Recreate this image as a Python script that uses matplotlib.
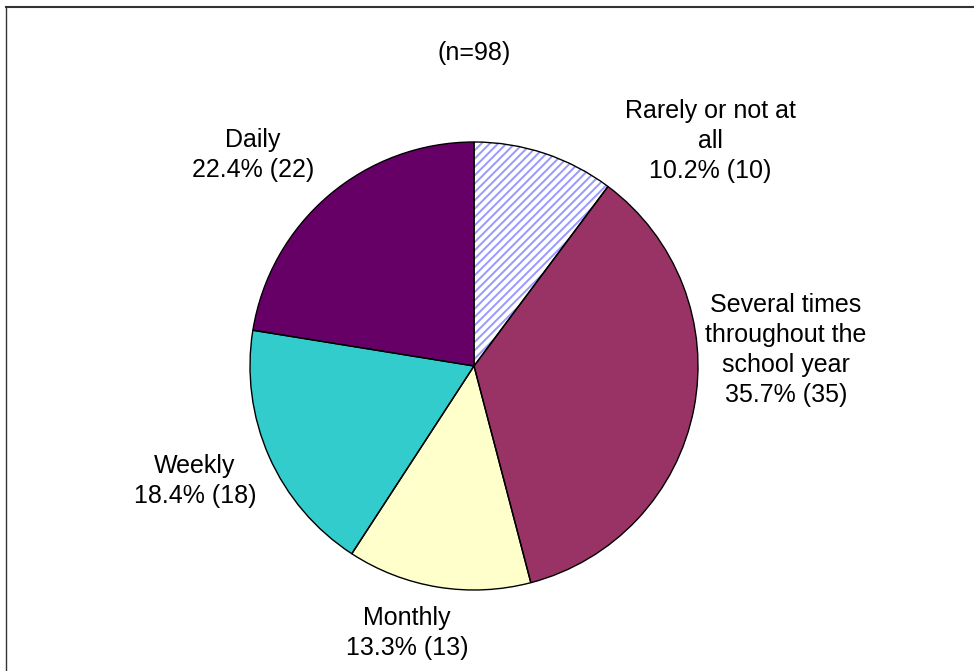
import numpy as np
from matplotlib import pyplot as plt
from matplotlib.lines import Line2D

plt.rcParams['font.family'] = ['Liberation Sans', 'DejaVu Sans']

# Data
labels  = ["Rarely or not at\nall", "Several times\nthroughout the\nschool year", "Monthly", "Weekly", "Daily"]
counts  = [10, 35, 13, 18, 22]
colors  = ["white", "#993366", "#FFFFCC", "#33CCCC", "#660066"]
n_total = 98

# label centres in pixel coords (x, y from top)
label_pos = [(710, 141), (786, 350), (407, 633), (195, 481), (253, 155)]

W, H = 974, 671
fig = plt.figure(figsize=(W/100, H/100), dpi=100)
ax = fig.add_axes([0, 0, 1, 1])

cx, cy, r = 474, H - 366, 224

# fills
plt.rcParams['hatch.linewidth'] = 1.4
wedges, _ = ax.pie(counts, colors=colors, startangle=90, counterclock=False,
                   center=(cx, cy), radius=r, frame=True,
                   wedgeprops=dict(linewidth=0))
wedges[0].set_hatch('////')
wedges[0].set_edgecolor('#9999FF')
wedges[0].set_linewidth(0)

# outlines
ax.pie(counts, colors=['none']*len(counts), startangle=90, counterclock=False,
       center=(cx, cy), radius=r, frame=True,
       wedgeprops=dict(linewidth=1.0, edgecolor='black'))
ax.set_xlim(0, W)
ax.set_ylim(0, H)
ax.set_aspect('equal')
ax.axis('off')

total = sum(counts)
for lab, c, (x, y) in zip(labels, counts, label_pos):
    pct = 100.0 * c / total
    ax.text(x, H - y, "%s\n%.1f%% (%d)" % (lab, pct, c), ha='center', va='center',
            fontsize=18, linespacing=1.3)

ax.text(474, H - 53, "(n=%d)" % n_total, ha='center', va='center', fontsize=18)

# chart border (top and left visible)
fig.add_artist(Line2D([6/W, 1], [1 - 6.5/H, 1 - 6.5/H], color='#333333', lw=1.5))
fig.add_artist(Line2D([5.5/W, 5.5/W], [0, 1 - 6.5/H], color='#333333', lw=1.0))

fig.savefig("out.png", dpi=100)
